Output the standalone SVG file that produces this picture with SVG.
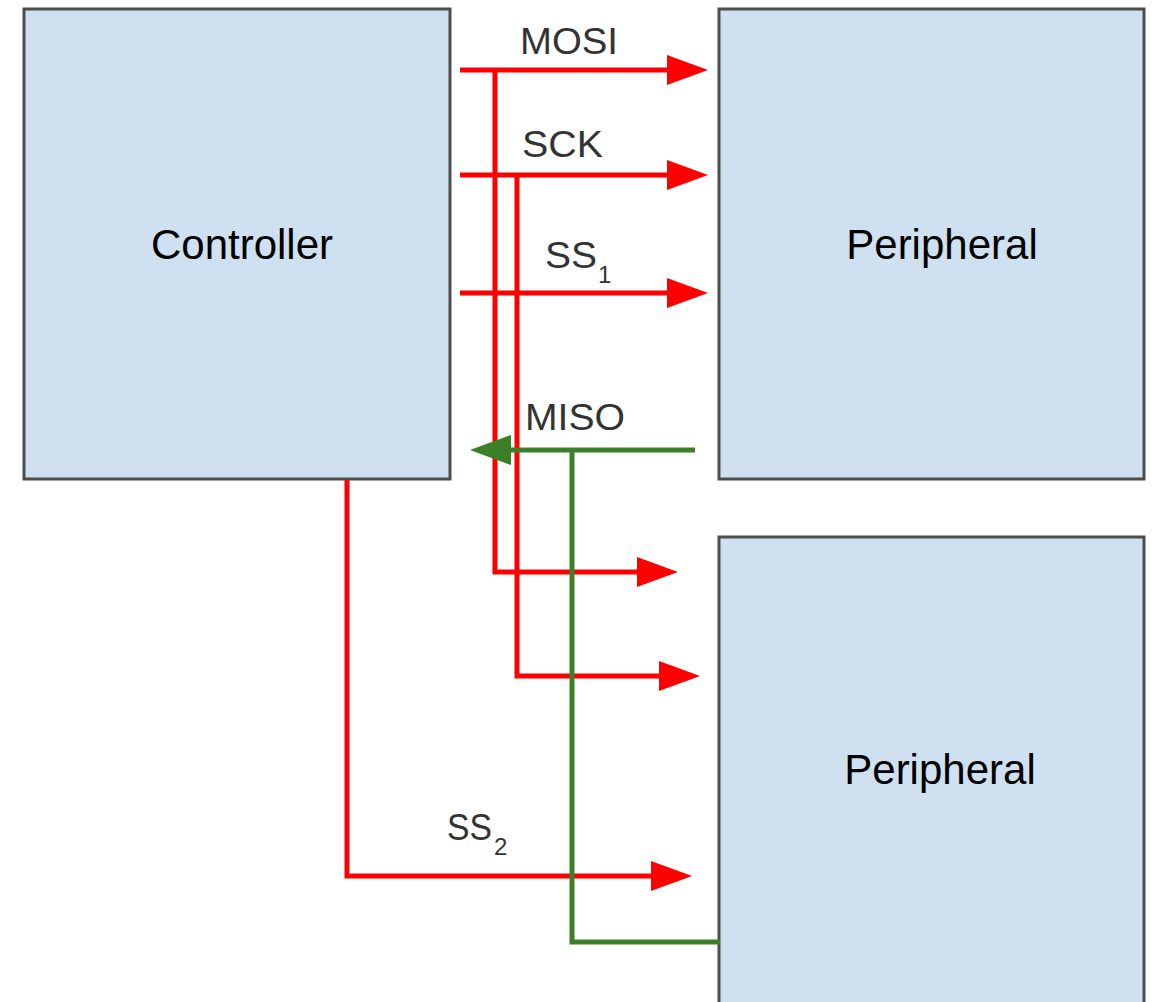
<svg xmlns="http://www.w3.org/2000/svg" width="1157" height="1002" viewBox="0 0 1157 1002">
<style>
.box{fill:#cfe0f0;stroke:#4d4d4d;stroke-width:3}
.title{font-family:"Liberation Sans",Arial,sans-serif;font-size:42px;fill:#000;text-anchor:middle}
.lbl{font-family:"Liberation Sans",Arial,sans-serif;font-size:36px;fill:#333}
.sub{font-family:"Liberation Sans",Arial,sans-serif;font-size:24px;fill:#333}
.red{fill:none;stroke:#ff0000;stroke-width:5;stroke-linejoin:miter}
.green{fill:none;stroke:#3b7f26;stroke-width:5;stroke-linejoin:miter}
</style>
<defs>
<marker id="ar" markerUnits="userSpaceOnUse" markerWidth="42" markerHeight="30" refX="2" refY="15" orient="auto">
<path d="M0,0 L41,15 L0,30 z" fill="#ff0000"/>
</marker>
<marker id="ag" markerUnits="userSpaceOnUse" markerWidth="42" markerHeight="30" refX="2" refY="15" orient="auto">
<path d="M0,0 L41,15 L0,30 z" fill="#3b7f26"/>
</marker>
</defs>
<rect width="1157" height="1002" fill="#ffffff"/>
<g id="controller">
<rect class="box" x="24" y="9" width="426" height="470"/>
<text class="title" x="242" y="259">Controller</text>
</g>
<g id="peripheral1">
<rect class="box" x="719" y="9" width="425" height="470"/>
<text class="title" x="942" y="259">Peripheral</text>
</g>
<g id="peripheral2">
<rect class="box" x="719" y="537" width="425" height="480"/>
<text class="title" x="940" y="784">Peripheral</text>
</g>
<g id="connectors">
<path class="red" d="M460,70 H669" marker-end="url(#ar)"/>
<path class="red" d="M460,175 H669" marker-end="url(#ar)"/>
<path class="red" d="M460,293 H669" marker-end="url(#ar)"/>
<path class="red" d="M495,70 V572 H639" marker-end="url(#ar)"/>
<path class="red" d="M517,175 V676 H661" marker-end="url(#ar)"/>
<path class="red" d="M347,480 V876 H653" marker-end="url(#ar)"/>
<path class="green" d="M695,450 H509" marker-end="url(#ag)"/>
<path class="green" d="M572,450 V942 H720"/>
</g>
<g id="labels">
<text class="lbl" x="520" y="54" textLength="98" lengthAdjust="spacingAndGlyphs">MOSI</text>
<text class="lbl" x="522" y="157" textLength="81" lengthAdjust="spacingAndGlyphs">SCK</text>
<text class="lbl" x="545" y="268" textLength="52" lengthAdjust="spacingAndGlyphs">SS</text>
<text class="sub" x="598" y="283">1</text>
<text class="lbl" x="525" y="430" textLength="100" lengthAdjust="spacingAndGlyphs">MISO</text>
<text class="lbl" x="447" y="840" textLength="45" lengthAdjust="spacingAndGlyphs">SS</text>
<text class="sub" x="494" y="855">2</text>
</g>
</svg>
